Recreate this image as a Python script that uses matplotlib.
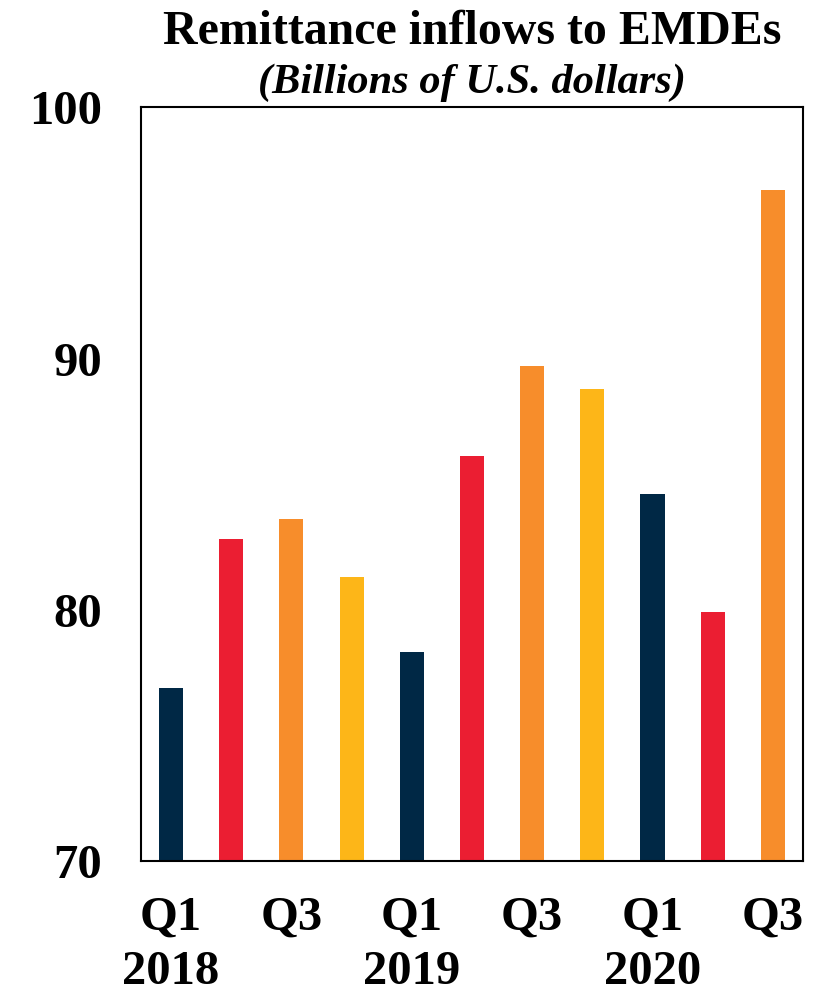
import matplotlib
matplotlib.use("Agg")
import matplotlib.pyplot as plt
import numpy as np

# ── data ──────────────────────────────────────────────────────────────────────
quarters = ["Q1\n2018", "Q2", "Q3", "Q4",
            "Q1\n2019", "Q2", "Q3", "Q4",
            "Q1\n2020", "Q2", "Q3"]
inflows = [76.9, 82.8, 83.6, 81.3, 78.3, 86.1, 89.7, 88.8, 84.6, 79.9, 96.7]
shown_ticks = [0, 2, 4, 6, 8, 10]
tick_text = ["Q1\n2018", "Q3", "Q1\n2019", "Q3", "Q1\n2020", "Q3"]

# ── colours (one per quarter) ────────────────────────────────────────────────
C_Q1 = "#002845"
C_Q2 = "#EB1E32"
C_Q3 = "#F78D2B"
C_Q4 = "#FDB618"
q_cols = [C_Q1, C_Q2, C_Q3, C_Q4]
colors = [q_cols[i % 4] for i in range(len(inflows))]

plt.rcParams["font.family"] = ["Liberation Serif", "DejaVu Serif"]
plt.rcParams["font.weight"] = "bold"

fig = plt.figure(figsize=(8.21, 9.94), dpi=100)
ax = fig.add_axes([0.1717, 0.134, 0.8063, 0.758])

x = np.arange(len(inflows))
ax.bar(x, inflows, width=0.4, color=colors, bottom=0)

ax.set_xlim(-0.5, 10.5)
ax.set_ylim(70, 100)
ax.set_yticks([70, 80, 90, 100])
ax.set_yticklabels(["70", "80", "90", "100"], fontsize=35, fontweight="bold")
ax.set_xticks(shown_ticks)
ax.set_xticklabels(tick_text, fontsize=35, fontweight="bold", linespacing=1.3)
ax.tick_params(axis="y", length=0, pad=28)
ax.tick_params(axis="x", length=0, pad=25)

for sp in ax.spines.values():
    sp.set_linewidth(1.5)
    sp.set_color("black")

# ── titles ────────────────────────────────────────────────────────────────────
mid = (0.1717 + 0.978) / 2
fig.text(mid, 0.956, "Remittance inflows to EMDEs", ha="center", va="baseline",
         fontsize=34.5, fontweight="bold")
fig.text(mid, 0.906, "(Billions of U.S. dollars)", ha="center", va="baseline",
         fontsize=30.5, fontweight="bold", style="italic")

fig.savefig("out.png", dpi=100)
